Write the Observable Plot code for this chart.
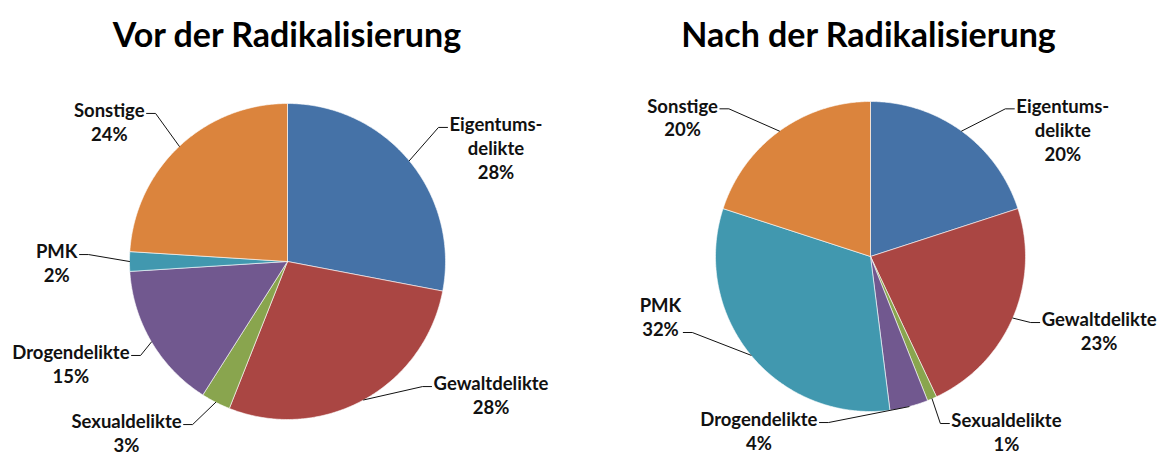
<!DOCTYPE html>
<html><head><meta charset="utf-8">
<script src="https://cdn.jsdelivr.net/npm/d3@7"></script>
<script src="https://cdn.jsdelivr.net/npm/@observablehq/plot@0.6"></script>
<style>
body{margin:0;background:#fff;font-family:Lato,sans-serif}
#wrap{display:flex;width:1163px;height:456px;overflow:hidden}
.col{flex:none}
.title{height:60px;box-sizing:border-box;padding-top:8px;line-height:52px;font-size:34px;font-weight:bold;text-align:center;color:#000;white-space:nowrap}
</style></head><body><div id="wrap"></div>
<script>
// ---- data ----
const categories = ["Eigentumsdelikte", "Gewaltdelikte", "Sexualdelikte", "Drogendelikte", "PMK", "Sonstige"];
const categoryLabels = ["Eigentums-\ndelikte", "Gewaltdelikte", "Sexualdelikte", "Drogendelikte", "PMK", "Sonstige"];
const vorValues = [28, 28, 3, 15, 2, 24];
const nachValues = [20, 23, 1, 4, 32, 20];
const chartTitles = ["Vor der Radikalisierung", "Nach der Radikalisierung"];
const sliceColors = ["#4572A7", "#AA4643", "#89A54E", "#71588F", "#4198AF", "#DB843D"];

// ---- label layout (leader elbow: angle in degrees clockwise from 12 o'clock, radius factor, line the leader points at) ----
const vorLabelLayout = [[48.4, 1.278, 0], [132.8, 1.165, 0], [210.2, 1.194, 0], [237.4, 1.104, 0], [272, 1.26, 0], [318.3, 1.255, 0]];
const nachLabelLayout = [[42.4, 1.29, 0], [112.4, 1.118, 0], [157.3, 1.168, 0], [194.2, 1.105, 0], [246.9, 1.25, 1], [316.2, 1.32, 0]];

const FONT_SIZE = 18.5, LINE_H = 24;
const ctx = document.createElement("canvas").getContext("2d");
ctx.font = `bold ${FONT_SIZE}px Lato`;

function pieChart(values, layout, title, width, cx, cy, r) {
  const H = 396, top = cy - 60;
  const arcs = d3.pie().sort(null).value(d => d)(values);
  const polys = [], leaders = [], labels = [];
  arcs.forEach((a, i) => {
    const name = categories[i];
    const n = Math.max(2, Math.ceil((a.endAngle - a.startAngle) / 0.01));
    polys.push({name, x: 0, y: 0});
    for (let k = 0; k <= n; k++) {
      const t = a.startAngle + (a.endAngle - a.startAngle) * k / n;
      polys.push({name, x: r * Math.sin(t), y: -r * Math.cos(t)});
    }
    polys.push({name, x: 0, y: 0});
    // leader line: slice edge at mid angle -> elbow -> short horizontal tail
    const mid = (a.startAngle + a.endAngle) / 2;
    const [ang, kf, attach] = layout[i];
    const ea = ang * Math.PI / 180;
    const ex = kf * r * Math.sin(ea), ey = -kf * r * Math.cos(ea);
    const side = Math.sin(ea) >= 0 ? 1 : -1;
    leaders.push({name, x: r * Math.sin(mid), y: -r * Math.cos(mid)});
    leaders.push({name, x: ex, y: ey});
    leaders.push({name, x: ex + side * 9, y: ey});
    const text = categoryLabels[i] + "\n" + values[i] + "%";
    const lines = text.split("\n");
    const bw = d3.max(lines, l => ctx.measureText(l).width);
    const firstY = ey - 4 - attach * LINE_H;
    labels.push({text, x: ex + side * (11 + bw / 2), y: firstY + (lines.length - 1) * LINE_H / 2});
  });
  const col = document.createElement("div");
  col.className = "col";
  col.style.width = width + "px";
  const t = document.createElement("div");
  t.className = "title";
  t.textContent = title;
  col.appendChild(t);
  col.appendChild(Plot.plot({
    width, height: H,
    margin: 0,
    style: {fontFamily: "Lato, sans-serif", background: "#fff"},
    x: {domain: [-cx, width - cx], range: [0, width], axis: null},
    y: {domain: [-top, H - top], range: [0, H], axis: null},
    color: {domain: categories, range: sliceColors},
    marks: [
      Plot.line(polys, {x: "x", y: "y", z: "name", fill: "name", stroke: "#fff", strokeWidth: 0.6, strokeLinejoin: "round", curve: "linear"}),
      Plot.line(leaders, {x: "x", y: "y", z: "name", stroke: "#111", strokeWidth: 1, curve: "linear"}),
      Plot.text(labels, {x: "x", y: "y", text: "text", textAnchor: "middle", lineAnchor: "middle", lineHeight: LINE_H / FONT_SIZE, fontSize: FONT_SIZE, fontWeight: "bold", fill: "#111"})
    ]
  }));
  return col;
}

const wrap = document.getElementById("wrap");
wrap.appendChild(pieChart(vorValues, vorLabelLayout, chartTitles[0], 574, 287, 261, 158));
wrap.appendChild(pieChart(nachValues, nachLabelLayout, chartTitles[1], 589, 296, 256, 155));
</script></body></html>
